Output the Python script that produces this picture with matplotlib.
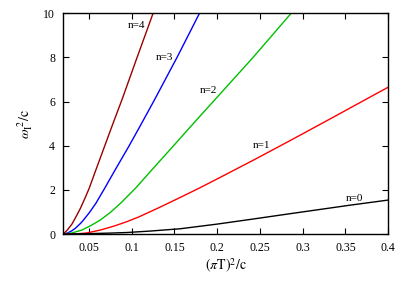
import matplotlib
matplotlib.use('Agg')
import matplotlib.pyplot as plt

plt.rcParams['font.family'] = 'Liberation Serif'
plt.rcParams['mathtext.fontset'] = 'stix'

# ── Data ──────────────────────────────────────────────────────────────────────
x_n4 = [0.020, 0.025, 0.030, 0.035, 0.040, 0.045, 0.050, 0.058, 0.068, 0.078, 0.089, 0.106, 0.125]
y_n4 = [0.0, 0.20, 0.45, 0.80, 1.17, 1.60, 2.05, 2.90, 3.95, 5.00, 6.13, 7.97, 10.0]

x_n3 = [0.020, 0.025, 0.030, 0.034, 0.040, 0.0434, 0.050, 0.058, 0.068, 0.0805, 0.097, 0.1125, 0.1265, 0.153, 0.1793]
y_n3 = [0.0, 0.05, 0.15, 0.26, 0.48, 0.63, 0.95, 1.39, 2.05, 2.90, 4.0, 5.08, 6.07, 8.0, 10.0]

x_n2 = [0.020, 0.030, 0.0415, 0.052, 0.063, 0.075, 0.0884, 0.105, 0.1215, 0.145, 0.168, 0.1918, 0.242, 0.2866]
y_n2 = [0.0, 0.05, 0.18, 0.38, 0.63, 0.98, 1.45, 2.10, 2.82, 3.83, 4.83, 5.85, 8.0, 10.0]

x_n1 = [0.020, 0.035, 0.0474, 0.063, 0.080, 0.0942, 0.1085, 0.1215, 0.1332, 0.1605, 0.180, 0.1996, 0.2425, 0.2866, 0.330, 0.400]
y_n1 = [0.0, 0.01, 0.05, 0.18, 0.37, 0.56, 0.78, 1.01, 1.22, 1.73, 2.10, 2.49, 3.35, 4.26, 5.17, 6.65]

x_n0 = [0.020, 0.050, 0.075, 0.094, 0.1215, 0.1566, 0.1996, 0.240, 0.2776, 0.3157, 0.3557, 0.400]
y_n0 = [0.0, 0.02, 0.045, 0.07, 0.136, 0.24, 0.45, 0.67, 0.88, 1.09, 1.31, 1.54]

series = [
    ("n=4", x_n4, y_n4, "#990000", (0.106, 9.46)),
    ("n=3", x_n3, y_n3, "#0000ff", (0.138, 7.99)),
    ("n=2", x_n2, y_n2, "#00c000", (0.190, 6.49)),
    ("n=1", x_n1, y_n1, "#ff0000", (0.2523, 3.99)),
    ("n=0", x_n0, y_n0, "#000000", (0.3604, 1.59)),
]

xticks = [0.05, 0.1, 0.15, 0.2, 0.25, 0.3, 0.35, 0.4]
xticklabels = ["0.05", "0.1", "0.15", "0.2", "0.25", "0.3", "0.35", "0.4"]
yticks = [0, 2, 4, 6, 8, 10]

# ── Figure ────────────────────────────────────────────────────────────────────
fig = plt.figure(figsize=(4.01, 2.81), dpi=100)
ax = fig.add_axes([0.158, 0.167, 0.810, 0.786])

for label, xs, ys, color, pos in series:
    ax.plot(xs, ys, color=color, linewidth=1.0)
    ax.text(pos[0], pos[1], label, fontsize=8, ha="center", va="center")

ax.set_xlim(0.02, 0.4)
ax.set_ylim(0, 10)
ax.set_xticks(xticks)
ax.set_xticklabels(xticklabels)
ax.set_yticks(yticks)
ax.tick_params(direction="in", length=4, width=0.8, labelsize=8.5,
               top=True, right=True, pad=6)
for spine in ax.spines.values():
    spine.set_linewidth(1.0)

ax.set_xlabel(r"$(\pi\mathrm{T})^2\mathrm{/c}$", fontsize=10, labelpad=2)
ax.set_ylabel(r"$\omega_\mathrm{I}^{\ 2}\mathrm{/c}$", fontsize=10, labelpad=6)

fig.savefig("out.png", dpi=100)
